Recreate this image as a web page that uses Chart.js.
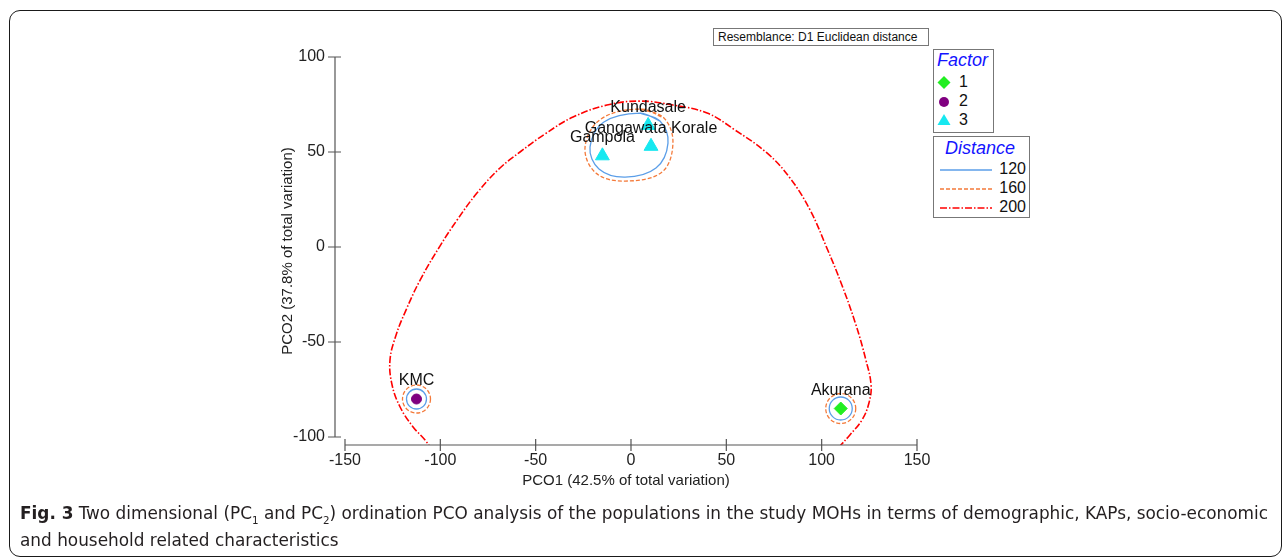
<!DOCTYPE html>
<html>
<head>
<meta charset="utf-8">
<script src="https://cdn.jsdelivr.net/npm/chart.js@4.4.0/dist/chart.umd.min.js"></script>
<style>
  body { margin: 0; width: 1287px; height: 559px; background: #fff; position: relative; overflow: hidden; font-family: "Liberation Sans", Arial, sans-serif; }
  #frame { position: absolute; left: 9px; top: 10px; width: 1271px; height: 545px; border: 1.5px solid #1a1a1a; border-radius: 11px; }
  #plot { position: absolute; left: 0; top: 0; }
  .box { position: absolute; border: 1px solid #777; background: #fff; }
  .abs { position: absolute; white-space: nowrap; }
  .ltitle { font-style: italic; color: #1414ff; font-size: 18px; }
  .item { font-size: 16px; color: #111; }
  #caption { position: absolute; left: 20px; top: 499px; font-family: "DejaVu Sans Condensed", "DejaVu Sans", sans-serif; font-size: 18px; line-height: 27px; color: #231f20; white-space: nowrap; transform-origin: 0 0; }
  #caption sub { font-size: 11px; line-height: 0; }
</style>
</head>
<body>
<div id="frame"></div>
<canvas id="plot" width="1287" height="559"></canvas>

<div class="box" style="left:713px;top:28px;width:214px;height:16px;">
  <div class="abs" style="left:4px;top:1px;font-size:12px;color:#111;">Resemblance: D1 Euclidean distance</div>
</div>

<div class="box" style="left:933px;top:49px;width:59px;height:82px;">
  <div class="abs ltitle" style="left:3px;top:0px;">Factor</div>
  <svg class="abs" style="left:2px;top:25px;" width="16" height="60">
    <polygon points="8,1 14.5,7.5 8,14 1.5,7.5" fill="#22ee22"/>
    <circle cx="8" cy="27" r="5" fill="#800080"/>
    <polygon points="8,39 14.5,50 1.5,50" fill="#16e8f0"/>
  </svg>
  <div class="abs item" style="left:25px;top:23px;">1</div>
  <div class="abs item" style="left:25px;top:42px;">2</div>
  <div class="abs item" style="left:25px;top:61px;">3</div>
</div>

<div class="box" style="left:933px;top:136px;width:95px;height:80px;">
  <div class="abs ltitle" style="left:11px;top:1px;">Distance</div>
  <svg class="abs" style="left:6px;top:26px;" width="54" height="50">
    <line x1="0" y1="7" x2="52" y2="7" stroke="#5b9ee8" stroke-width="1.3"/>
    <line x1="0" y1="26" x2="52" y2="26" stroke="#f47a3a" stroke-width="1.3" stroke-dasharray="4,2"/>
    <line x1="0" y1="45" x2="52" y2="45" stroke="#ff0000" stroke-width="1.6" stroke-dasharray="7,2,1.5,2"/>
  </svg>
  <div class="abs item" style="right:3px;top:23px;">120</div>
  <div class="abs item" style="right:3px;top:42px;">160</div>
  <div class="abs item" style="right:3px;top:61px;">200</div>
</div>

<div id="caption"><span id="cap1"><b>Fig. 3</b> Two dimensional (PC<sub>1</sub> and PC<sub>2</sub>) ordination PCO analysis of the populations in the study MOHs in terms of demographic, KAPs, socio-economic</span><br>and household related characteristics</div>

<script>
// sites
const siteNames = ['Kundasale', 'Gangawata Korale', 'Gampola', 'KMC', 'Akurana'];
const pco1 = [9, 10.5, -15, -112.5, 110];
const pco2 = [64, 53, 48, -80, -85];
const factor = [3, 3, 3, 2, 1];

const xTicks = [-150, -100, -50, 0, 50, 100, 150];
const yTicks = [-100, -50, 0, 50, 100];

// distance 120 contour round the upper group
const c120X = [4.7, 15.2, 19.4, 13.1, -3.1, -16.8, -21.5, -14.2];
const c120Y = [70.5, 66.3, 54.7, 41.6, 36.8, 41.1, 52.6, 65.8];
// distance 160 contour round the upper group
const c160X = [5.2, 17.3, 22.0, 16.3, -3.1, -18.4, -24.1, -15.7];
const c160Y = [72.6, 67.9, 54.7, 39.5, 34.7, 38.9, 52.6, 67.4];
// distance 200 contour (runs off the bottom of the frame)
const c200X = [-100.5, -108.0, -114.3, -121.1, -125.3, -126.4, -123.2, -118.0, -110.6, -100.2, -91.2, -80.8, -68.7, -58.2, -45.1, -30.4, -12.6, 4.7, 22.0, 39.9, 54.5, 71.3, 83.4, 93.9, 102.3, 110.6, 118.0, 123.2, 125.9, 124.8, 121.1, 114.8, 109.6, 103.5];
const c200Y = [-112.5, -101.6, -94.7, -84.2, -72.6, -59.5, -46.3, -33.2, -17.4, 0.5, 14.2, 28.4, 41.6, 50.0, 59.5, 68.4, 74.7, 76.8, 74.7, 70.5, 61.6, 49.5, 36.3, 19.5, 0.5, -20.0, -41.1, -59.5, -72.6, -82.1, -91.1, -98.9, -104.7, -111.0];
// single-site groups (KMC, Akurana) get small rings
const ringSites = [3, 4];

const pts = (xs, ys) => xs.map((x, i) => ({ x: x, y: ys[i] }));
// closed loop: repeat the first two points so the join stays smooth
const loop = (xs, ys) => { const p = pts(xs, ys); return p.concat([p[0], p[1]]); };
const siteSet = f => pts(pco1, pco2).filter((p, i) => factor[i] === f);
const ringPts = ringSites.map(i => ({ x: pco1[i], y: pco2[i] }));

const axisPlugin = {
  id: 'axes',
  afterDraw(chart) {
    const ctx = chart.ctx, sx = chart.scales.x, sy = chart.scales.y;
    const ax = chart.chartArea.left, ay = chart.chartArea.bottom;
    ctx.save();
    ctx.strokeStyle = '#555';
    ctx.lineWidth = 1.2;
    ctx.beginPath();
    ctx.moveTo(ax, sy.getPixelForValue(yTicks[0]));
    ctx.lineTo(ax, sy.getPixelForValue(yTicks[yTicks.length - 1]));
    yTicks.forEach(v => {
      const y = sy.getPixelForValue(v);
      ctx.moveTo(ax - 7, y); ctx.lineTo(ax + 6, y);
    });
    ctx.moveTo(sx.getPixelForValue(xTicks[0]), ay);
    ctx.lineTo(sx.getPixelForValue(xTicks[xTicks.length - 1]), ay);
    xTicks.forEach(v => {
      const x = sx.getPixelForValue(v);
      ctx.moveTo(x, ay - 6); ctx.lineTo(x, ay + 6);
    });
    ctx.stroke();
    ctx.restore();
  }
};

const labelPlugin = {
  id: 'siteLabels',
  afterDatasetsDraw(chart) {
    const ctx = chart.ctx, sx = chart.scales.x, sy = chart.scales.y;
    ctx.save();
    ctx.font = '16px "Liberation Sans", Arial, sans-serif';
    ctx.fillStyle = '#111';
    ctx.textAlign = 'center';
    ctx.textBaseline = 'middle';
    siteNames.forEach((name, i) => {
      ctx.fillText(name, sx.getPixelForValue(pco1[i]), sy.getPixelForValue(pco2[i]) - 18);
    });
    ctx.restore();
  }
};

// dashed ring points
const dashPlugin = {
  id: 'pointDash',
  beforeDatasetDraw(chart, args) {
    const d = chart.data.datasets[args.index];
    if (d.pointDash) chart.ctx.setLineDash(d.pointDash);
  },
  afterDatasetDraw(chart) {
    chart.ctx.setLineDash([]);
  }
};

const tickFont = { family: '"Liberation Sans", Arial, sans-serif', size: 16 };
const titleFont = { family: '"Liberation Sans", Arial, sans-serif', size: 15 };

new Chart(document.getElementById('plot'), {
  type: 'scatter',
  data: {
    datasets: [
      { label: '1', data: siteSet(1), pointStyle: 'rectRot', pointRadius: 6.5, backgroundColor: '#22ee22', borderColor: '#22ee22', borderWidth: 1 },
      { label: '2', data: siteSet(2), pointStyle: 'circle', pointRadius: 5, backgroundColor: '#800080', borderColor: '#800080', borderWidth: 1 },
      { label: '3', data: siteSet(3), pointStyle: 'triangle', pointRadius: 8, backgroundColor: '#16e8f0', borderColor: '#16e8f0', borderWidth: 1 },
      { label: '120 ring', data: ringPts, pointStyle: 'circle', pointRadius: [10, 11.5], backgroundColor: 'rgba(0,0,0,0)', borderColor: '#5b9ee8', borderWidth: 1.3 },
      { label: '160 ring', data: ringPts, pointStyle: 'circle', pointRadius: [14, 15], backgroundColor: 'rgba(0,0,0,0)', borderColor: '#f47a3a', borderWidth: 1.3, pointDash: [4, 2] },
      { label: '120', data: loop(c120X, c120Y), showLine: true, tension: 0.37, pointRadius: 0, borderColor: '#5b9ee8', borderWidth: 1.3 },
      { label: '160', data: loop(c160X, c160Y), showLine: true, tension: 0.37, pointRadius: 0, borderColor: '#f47a3a', borderWidth: 1.3, borderDash: [4, 2] },
      { label: '200', data: pts(c200X, c200Y), showLine: true, tension: 0.4, pointRadius: 0, borderColor: '#ff0000', borderWidth: 1.6, borderDash: [7, 2, 1.5, 2] }
    ]
  },
  options: {
    responsive: false,
    animation: false,
    events: [],
    layout: { padding: { left: 0, right: 370, top: 57, bottom: 64 } },
    elements: { line: { capBezierPoints: false } },
    plugins: { legend: { display: false }, tooltip: { enabled: false } },
    scales: {
      x: {
        type: 'linear', min: -155.24, max: 150,
        ticks: { stepSize: 50, includeBounds: false, font: tickFont, color: '#222', padding: 6, maxRotation: 0 },
        grid: { display: false, drawTicks: false },
        border: { display: false },
        title: { display: true, text: 'PCO1 (42.5% of total variation)', font: titleFont, color: '#222', padding: { top: 0, bottom: 5 } },
        afterFit: s => { s.height = 50; }
      },
      y: {
        type: 'linear', min: -104.2, max: 100,
        ticks: { stepSize: 50, includeBounds: false, font: tickFont, color: '#222', padding: 10 },
        grid: { display: false, drawTicks: false },
        border: { display: false },
        title: { display: true, text: 'PCO2 (37.8% of total variation)', font: titleFont, color: '#222', padding: { top: 279, bottom: 0 } },
        afterFit: s => { s.width = 335; }
      }
    }
  },
  plugins: [axisPlugin, labelPlugin, dashPlugin]
});

// squeeze the caption so its first line spans the same width as in the figure
const cap = document.getElementById('caption');
const w1 = document.getElementById('cap1').getBoundingClientRect().width;
cap.style.transform = 'scaleX(' + (1248 / w1) + ')';
</script>
</body>
</html>
